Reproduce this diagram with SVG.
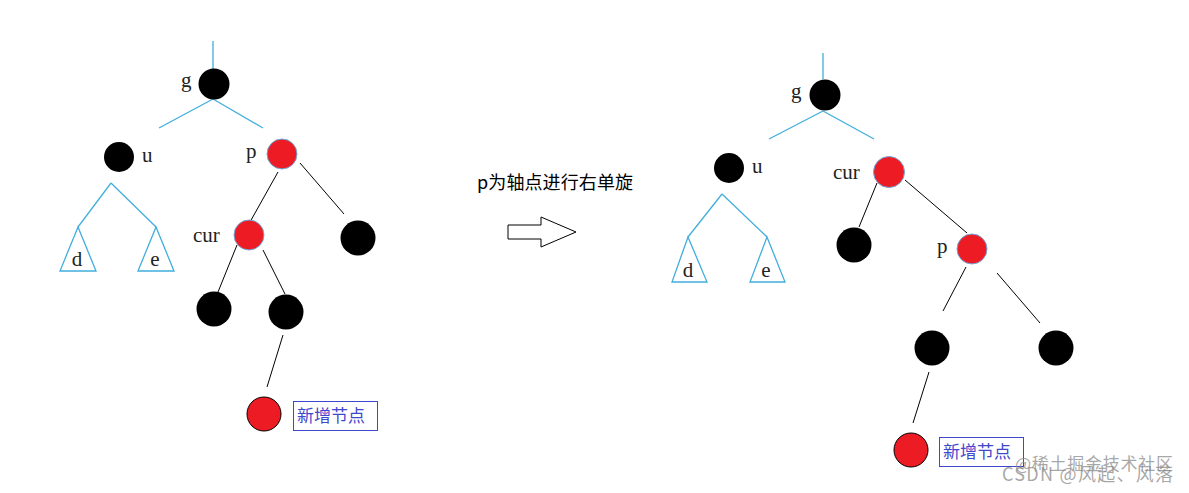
<svg xmlns="http://www.w3.org/2000/svg" width="1189" height="493" viewBox="0 0 1189 493">
<style>
.bg{fill:#ffffff}
.blk{fill:#000000}
.red{fill:#ed1c24;stroke:#6fa8d8;stroke-width:1}
.newn{fill:#ed1c24;stroke:#000000;stroke-width:1}
.bl{stroke:#41aedc;stroke-width:1.3;fill:none}
.k{stroke:#000000;stroke-width:1;fill:none}
.tri{fill:#ffffff;stroke:#41aedc;stroke-width:1.3}
.lbl{font-family:"Liberation Serif","DejaVu Serif",serif;font-size:21px;fill:#222222}
.box{fill:#ffffff;stroke:#3f48cc;stroke-width:1}
.boxt{font-family:"Noto Sans CJK SC","Noto Sans",sans-serif;font-size:17px;fill:#3f48cc}
.cap{font-family:"Noto Sans CJK SC","Noto Sans",sans-serif;font-size:18px;fill:#000000}
.wm{font-family:"Noto Sans CJK SC","Noto Sans",sans-serif;fill:#8a8a8a;fill-opacity:0.75}
</style>
<rect class="bg" x="0" y="0" width="1189" height="493"/>

<g id="connectors">
  <line class="bl" x1="213" y1="41" x2="213" y2="69"/>
  <line class="bl" x1="213" y1="99" x2="159" y2="128"/>
  <line class="bl" x1="213" y1="99" x2="263" y2="128"/>
  <line class="bl" x1="111" y1="183" x2="78" y2="227"/>
  <line class="bl" x1="111" y1="183" x2="156" y2="227"/>
  <line class="k" x1="278" y1="172" x2="250" y2="222"/>
  <line class="k" x1="300" y1="163" x2="344" y2="214"/>
  <line class="k" x1="237" y1="245" x2="218" y2="292"/>
  <line class="k" x1="263" y1="250" x2="285" y2="294"/>
  <line class="k" x1="283" y1="335" x2="267" y2="387"/>
  <line class="bl" x1="823" y1="53" x2="823" y2="79"/>
  <line class="bl" x1="823" y1="111" x2="769" y2="139"/>
  <line class="bl" x1="823" y1="111" x2="874" y2="139"/>
  <line class="bl" x1="722" y1="194" x2="688" y2="237"/>
  <line class="bl" x1="722" y1="194" x2="767" y2="237"/>
  <line class="k" x1="877" y1="183" x2="859" y2="227"/>
  <line class="k" x1="905" y1="180" x2="967" y2="233"/>
  <line class="k" x1="966" y1="267" x2="943" y2="311"/>
  <line class="k" x1="997" y1="273" x2="1040" y2="323"/>
  <line class="k" x1="929" y1="372" x2="913" y2="423"/>
</g>

<g id="L_g"><circle class="blk" cx="214" cy="84" r="15.5"/><text class="lbl" x="181" y="87">g</text></g>
<g id="L_u"><circle class="blk" cx="119" cy="157" r="15"/><text class="lbl" x="142" y="162">u</text></g>
<g id="L_p"><circle class="red" cx="282" cy="154" r="15"/><text class="lbl" x="246" y="158">p</text></g>
<g id="L_d"><polygon class="tri" points="78,227 60,271 96,271"/><text class="lbl" x="77" y="266" text-anchor="middle">d</text></g>
<g id="L_e"><polygon class="tri" points="156,227 138,271 174,271"/><text class="lbl" x="155" y="266" text-anchor="middle">e</text></g>
<g id="L_cur"><circle class="red" cx="249" cy="235" r="15"/><text class="lbl" x="193" y="242">cur</text></g>
<g id="L_pr"><circle class="blk" cx="358" cy="238" r="17.5"/></g>
<g id="L_cl"><circle class="blk" cx="214" cy="309" r="17.5"/></g>
<g id="L_cr"><circle class="blk" cx="286" cy="312" r="17.5"/></g>
<g id="L_new"><circle class="newn" cx="264" cy="414" r="17"/><rect class="box" x="293.5" y="401.5" width="84" height="29"/><text class="boxt" x="297" y="422">新增节点</text></g>

<g id="caption"><text class="cap" x="477" y="189" textLength="156">p为轴点进行右单旋</text></g>
<g id="arrow"><polygon points="508,225 541,225 541,217 576,232 541,247 541,239 508,239" fill="#ffffff" stroke="#000000" stroke-width="1"/></g>

<g id="R_g"><circle class="blk" cx="825" cy="95" r="15.5"/><text class="lbl" x="791" y="98">g</text></g>
<g id="R_u"><circle class="blk" cx="729" cy="168" r="15"/><text class="lbl" x="752" y="173">u</text></g>
<g id="R_d"><polygon class="tri" points="688,237 672,282 707,282"/><text class="lbl" x="688" y="277" text-anchor="middle">d</text></g>
<g id="R_e"><polygon class="tri" points="767,237 750,282 785,282"/><text class="lbl" x="766" y="277" text-anchor="middle">e</text></g>
<g id="R_cur"><circle class="red" cx="889" cy="172" r="15.5"/><text class="lbl" x="833" y="179">cur</text></g>
<g id="R_cl"><circle class="blk" cx="854" cy="245" r="17.5"/></g>
<g id="R_p"><circle class="red" cx="972" cy="249" r="15"/><text class="lbl" x="937" y="253">p</text></g>
<g id="R_pl"><circle class="blk" cx="932" cy="348" r="17.5"/></g>
<g id="R_pr"><circle class="blk" cx="1056" cy="348" r="17.5"/></g>
<g id="R_new"><circle class="newn" cx="911" cy="450" r="17"/><rect class="box" x="939.5" y="437.5" width="84" height="29"/><text class="boxt" x="943" y="458">新增节点</text></g>

<g id="watermark">
  <text class="wm" x="1015" y="470" font-size="17" textLength="158">@稀土掘金技术社区</text>
  <text class="wm" x="1002" y="481" font-size="18" textLength="171">CSDN @风起、风落</text>
</g>
</svg>
